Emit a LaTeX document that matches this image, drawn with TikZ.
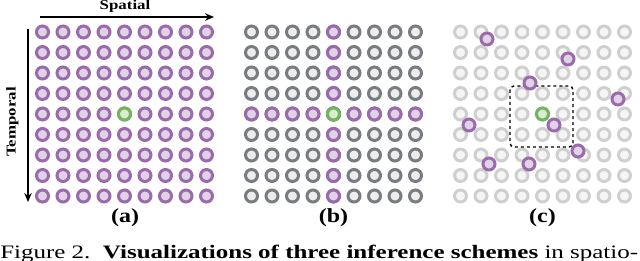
\documentclass[tikz,border=0pt]{standalone}
\usepackage{fontspec}
\setmainfont{Liberation Serif}
\usetikzlibrary{positioning, arrows.meta}

\definecolor{cellpurple}{HTML}{9A6AAC}
\definecolor{cellpurplefill}{HTML}{E0D3E6}
\definecolor{cellgreen}{HTML}{72B55C}
\definecolor{cellgreenfill}{HTML}{D9ECD3}
\definecolor{celldark}{HTML}{787B80}
\definecolor{celldarkfill}{HTML}{EDEDED}
\definecolor{celllight}{HTML}{CFCFCF}
\definecolor{celllightfill}{HTML}{F5F5F5}

\tikzset{
  cell/.style={circle, inner sep=0pt, minimum size=12pt, line width=3pt},
  pcell/.style={cell, draw=cellpurple, fill=cellpurplefill},
  gcell/.style={cell, draw=cellgreen, fill=cellgreenfill},
  dcell/.style={cell, draw=celldark, fill=celldarkfill},
  lcell/.style={cell, draw=celllight, fill=celllightfill},
  sublabel/.style={font=\bfseries\fontsize{20}{20}\selectfont, inner sep=0pt, xscale=1.2},
  axislabel/.style={font=\bfseries\fontsize{13.5}{13.5}\selectfont, inner sep=0pt}
}

\begin{document}
\begin{tikzpicture}[x=1pt, y=-1pt, >={Stealth[length=9pt, width=7.5pt]}]
    \useasboundingbox (0,0) rectangle (640,261);

    % (a) every cell is used
    \foreach \i in {0,...,8}
        \foreach \j in {0,...,8}
            \node[pcell] (a-\i-\j) at ({42.5+20.5*\i},{32+20.5*\j}) {};
    \node[gcell] (a-4-4) at ({42.5+20.5*4},{32+20.5*4}) {};

    \coordinate (sp-start) at (40,17);
    \coordinate (sp-end) at (214,17);
    \draw[->, line width=1.3pt] (sp-start) -- (sp-end);
    \node[axislabel, xscale=1.25] (spatial) at (125,6) {Spatial};

    \coordinate (tp-start) at (28,29);
    \coordinate (tp-end) at (28,202);
    \draw[->, line width=1.3pt] (tp-start) -- (tp-end);
    \node[axislabel, rotate=90, xscale=1.25] (temporal) at (12.5,122) {Temporal};

    % (b) one row and one column
    \foreach \i in {0,...,8}
        \foreach \j in {0,...,8}
            \node[dcell] (b-\i-\j) at ({251.5+20.5*\i},{32+20.5*\j}) {};
    \foreach \k in {0,...,8} {
        \node[pcell] (b-4-\k) at ({251.5+20.5*4},{32+20.5*\k}) {};
        \node[pcell] (b-\k-4) at ({251.5+20.5*\k},{32+20.5*4}) {};
    }
    \node[gcell] (b-4-4) at ({251.5+20.5*4},{32+20.5*4}) {};

    % (c) scattered samples
    \foreach \i in {0,...,8}
        \foreach \j in {0,...,8}
            \node[lcell] (c-\i-\j) at ({460.5+20.5*\i},{32+20.5*\j}) {};
    \node[gcell] (c-4-4) at ({460.5+20.5*4},{32+20.5*4}) {};
    \draw[dashed, line width=1.4pt, rounded corners=4pt] (510,86) rectangle (573,147);
    \node[pcell] (c-s1) at (487,39) {};
    \node[pcell] (c-s2) at (568,59) {};
    \node[pcell] (c-s3) at (530,83) {};
    \node[pcell] (c-s4) at (618,99) {};
    \node[pcell] (c-s5) at (554,125) {};
    \node[pcell] (c-s6) at (469,125) {};
    \node[pcell] (c-s7) at (578,151) {};
    \node[pcell] (c-s8) at (489,164) {};
    \node[pcell] (c-s9) at (529,164) {};

    \node[sublabel] (lab-a) at (125,218) {(a)};
    \node[sublabel] (lab-b) at (333.5,218) {(b)};
    \node[sublabel] (lab-c) at (542.5,218) {(c)};

    \node[anchor=base west, inner sep=0pt, xscale=1.315, font=\fontsize{19}{19}\selectfont] (caption) at (0,258.5)
        {Figure 2.\ \ \textbf{Visualizations of three inference schemes} in spatio-};
\end{tikzpicture}
\end{document}
